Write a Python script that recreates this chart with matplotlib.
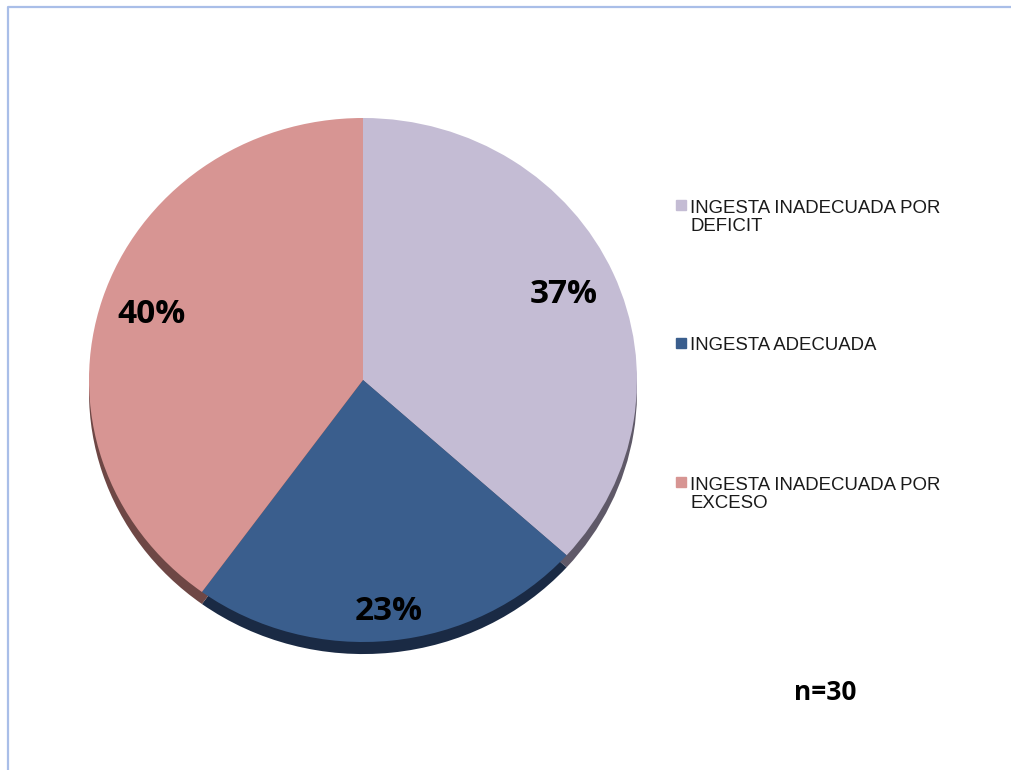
import numpy as np
import matplotlib.pyplot as plt
from matplotlib.patches import Rectangle
from matplotlib.lines import Line2D

W, H = 1011, 770

# datos: n=30 pacientes
categorias = ["INGESTA INADECUADA POR\nDEFICIT", "INGESTA ADECUADA", "INGESTA INADECUADA POR\nEXCESO"]
casos = [11, 7, 12]
colores = ["#C4BCD4", "#3A5E8D", "#D79593"]
colores_sombra = ["#5F5968", "#1A2A44", "#6E4745"]
dist_etiqueta = [0.80, 0.89, 0.81]
n_total = sum(casos)

fuente_negrita = ['Open Sans', 'DejaVu Sans']


def px(x, y):
    # pixeles (desde arriba a la izquierda) -> fraccion de figura
    return x / W, 1 - y / H


fig = plt.figure(figsize=(W / 100, H / 100), dpi=100)
ax = fig.add_axes([0, 0, 1, 1])

# sombra del pastel (efecto 3D)
ax.pie(casos, colors=colores_sombra, startangle=90, counterclock=False,
       center=(0, -0.046), wedgeprops=dict(linewidth=0))
cunas, _ = ax.pie(casos, colors=colores, startangle=90, counterclock=False,
                  wedgeprops=dict(linewidth=0))

# elipse: centro (363, 380), radios 274 x 262 px
cx, cy, rx, ry = 363, 380, 274, 262
ax.set_aspect('auto')
ax.set_xlim(-cx / rx, (W - cx) / rx)
ax.set_ylim(-(H - cy) / ry, cy / ry)
ax.axis('off')

for cuna, v, d in zip(cunas, casos, dist_etiqueta):
    ang = np.deg2rad((cuna.theta1 + cuna.theta2) / 2)
    pct = round(v / n_total * 100)
    ax.text(d * np.cos(ang), d * np.sin(ang), f"{pct}%", ha='center', va='center',
            fontsize=24, fontweight='bold', family=fuente_negrita, color='black')

# leyenda manual
filas_y = [211, 350, 488]
for lab, col, yb in zip(categorias, colores, filas_y):
    x0, y0 = px(676, yb - 11.5)
    fig.add_artist(Rectangle((x0, y0 - 10 / H), 10 / W, 10 / H, color=col,
                             transform=fig.transFigure))
    n_lineas = lab.count("\n")
    tx, ty = px(690, yb + 20 * n_lineas)
    fig.text(tx, ty, lab, ha='left', va='baseline', fontsize=13.4,
             family='Liberation Sans', color='#1a1a1a', linespacing=1.1)

tx, ty = px(825, 693)
fig.text(tx, ty, f"n={n_total}", ha='center', va='center', fontsize=19,
         fontweight='bold', family=fuente_negrita)

# marco superior e izquierdo
borde = '#A9BEE8'
fig.add_artist(Line2D([8 / W, 8 / W, 1], [0, 1 - 7 / H, 1 - 7 / H], color=borde,
                      linewidth=1.6, transform=fig.transFigure))

fig.savefig("out.png", dpi=100)
